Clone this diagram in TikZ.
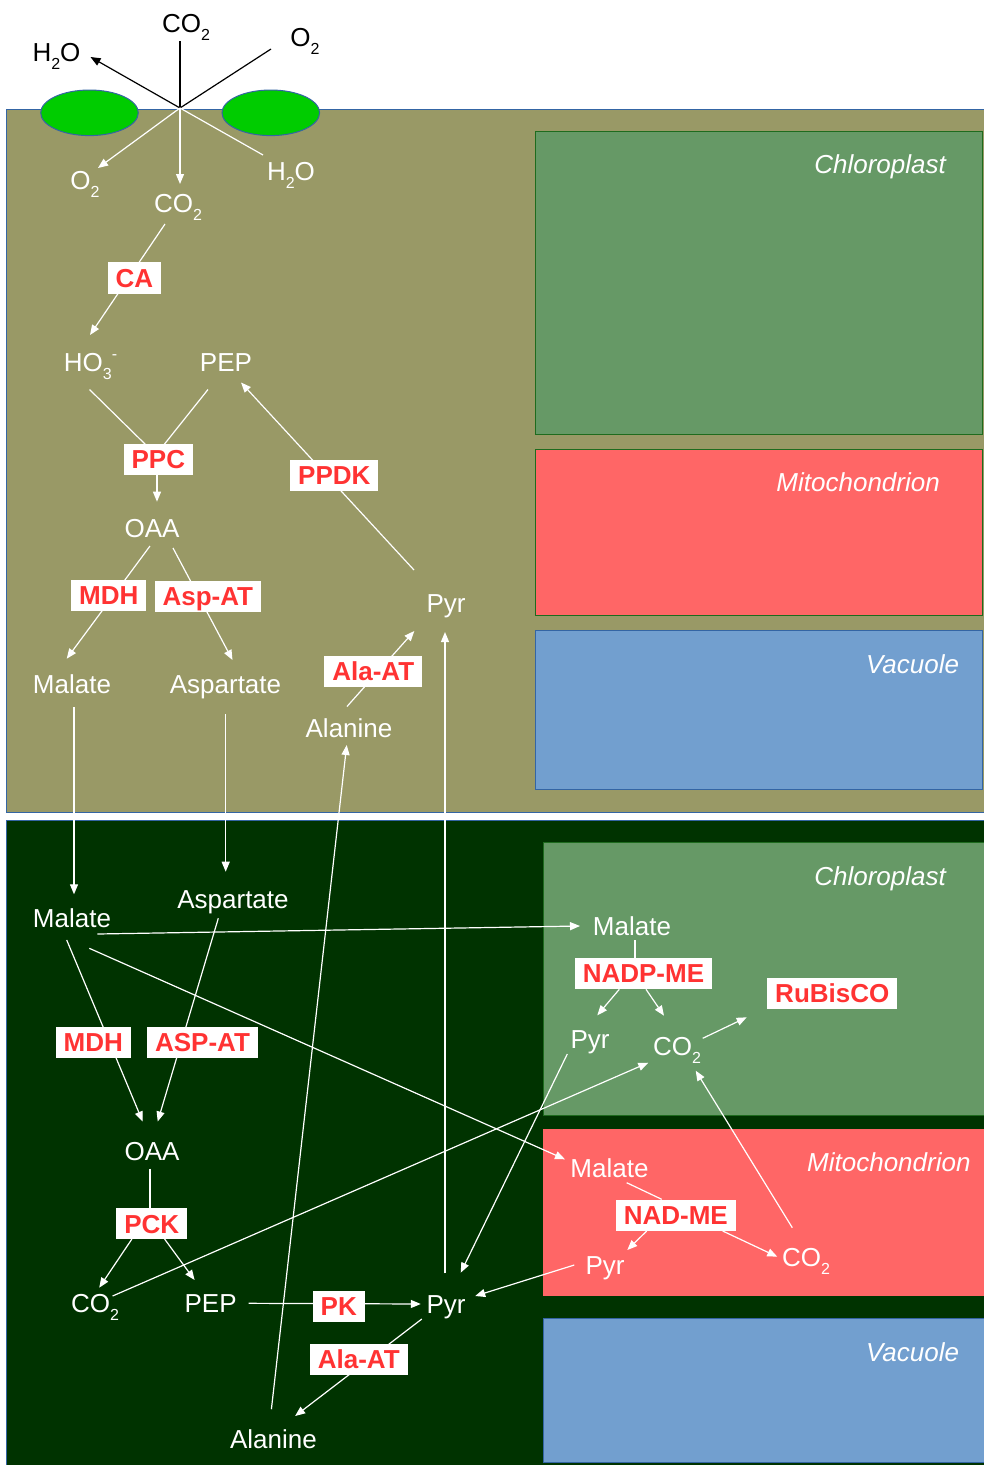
\documentclass[tikz,border=0pt]{standalone}
\usepackage{fontspec}
\setmainfont{Liberation Sans}
\usetikzlibrary{arrows.meta,calc}
\pgfdeclarelayer{bg}
\pgfdeclarelayer{edges}
\pgfsetlayers{bg,edges,main}
\definecolor{meso}{HTML}{999966}
\definecolor{bundle}{HTML}{003300}
\definecolor{chloro}{HTML}{669966}
\definecolor{chloroedge}{HTML}{1E6B1E}
\definecolor{mito}{HTML}{FF6666}
\definecolor{vacu}{HTML}{729FCF}
\definecolor{blueedge}{HTML}{3465A4}
\definecolor{leaf}{HTML}{00CC00}
\definecolor{enzred}{HTML}{FF3333}
\newcommand\subs[1]{\raisebox{-8pt}{\fontsize{16}{16}\selectfont #1}}
\newcommand\sups[1]{\raisebox{12pt}{\fontsize{16}{16}\selectfont #1}}
\begin{document}
\begin{tikzpicture}[x=1pt,y=-1pt,
  base/.style={font=\fontsize{26}{30}\selectfont, inner sep=0pt, text height=18.7pt, text depth=0pt},
  lab/.style={base, text=white},
  blab/.style={base, text=black},
  enz/.style={base, fill=white, text=enzred, font=\fontsize{26}{30}\selectfont\bfseries, inner xsep=8pt, inner ysep=6.2pt},
  comp/.style={base, text=white, font=\fontsize{26}{30}\selectfont\itshape, anchor=east},
  wl/.style={draw=white, line width=1.2pt},
  wa/.style={wl, -{Triangle[length=10pt,width=8pt]}},
  bl/.style={draw=black, line width=1.2pt},
  ba/.style={bl, -{Triangle[length=10pt,width=8pt]}},
]
\useasboundingbox (0,0) rectangle (983,1465);
\clip (0,0) rectangle (983,1465);

\begin{pgfonlayer}{bg}
  \fill[white] (0,0) rectangle (983,1465);
  \filldraw[fill=meso, draw=blueedge, line width=1pt] (6.7,109) rectangle (995,812);
  \filldraw[fill=bundle, draw=blueedge, line width=1pt] (6.7,820) rectangle (995,1475);
  \filldraw[fill=chloro, draw=chloroedge, line width=1pt] (535.3,131.7) rectangle (982,434.3);
  \filldraw[fill=mito, draw=chloroedge, line width=1pt] (535.3,449.3) rectangle (982,615);
  \filldraw[fill=vacu, draw=blueedge, line width=1pt] (535.3,630) rectangle (982,789.3);
  \filldraw[fill=chloro, draw=chloroedge, line width=1pt] (543.3,842.3) rectangle (995,1115);
  \fill[mito] (543.3,1129.3) rectangle (995,1295.7);
  \filldraw[fill=vacu, draw=blueedge, line width=1pt] (543.3,1318.3) rectangle (995,1462.7);
  \filldraw[fill=leaf, draw=blueedge, line width=1pt] (89.5,112.8) ellipse [x radius=48.8pt, y radius=22.8pt];
  \filldraw[fill=leaf, draw=blueedge, line width=1pt] (270.8,112.8) ellipse [x radius=48.8pt, y radius=22.8pt];
\end{pgfonlayer}

% compartment labels
\node[comp] (cpT) at (946,164.5) {Chloroplast};
\node[comp] (mtT) at (940,482) {Mitochondrion};
\node[comp] (vcT) at (959.3,664) {Vacuole};
\node[comp] (cpB) at (946,876) {Chloroplast};
\node[comp] (mtB) at (970.7,1162.5) {Mitochondrion};
\node[comp] (vcB) at (959.3,1352) {Vacuole};

% stoma
\coordinate (st) at (180,108);
\node[blab] (h2oT) at (56.5,52) {H\subs{2}O};
\node[blab] (co2T) at (186,23) {CO\subs{2}};
\node[blab] (o2T) at (305,37) {O\subs{2}};
\node[lab] (o2W) at (85,180) {O\subs{2}};
\node[lab] (co2W) at (178,203) {CO\subs{2}};
\node[lab] (h2oW) at (291,171.5) {H\subs{2}O};

% mesophyll metabolites
\node[lab] (ho3) at (90.5,362.5) {HO\subs{3}\sups{-}};
\node[lab] (pepT) at (226,362.5) {PEP};
\node[lab] (oaaT) at (152,528) {OAA};
\node[lab] (malT) at (72,684) {Malate};
\node[lab] (aspT) at (225.5,684) {Aspartate};
\node[lab] (pyrT) at (446,603) {Pyr};
\node[lab] (alaT) at (349,728.5) {Alanine};

% bundle sheath metabolites
\node[lab] (malB) at (72,918) {Malate};
\node[lab] (aspB) at (233,899) {Aspartate};
\node[lab] (oaaB) at (152,1151.5) {OAA};
\node[lab] (co2B) at (95,1303.3) {CO\subs{2}};
\node[lab] (pepB) at (210.6,1303.3) {PEP};
\node[lab] (pyrB) at (446,1304) {Pyr};
\node[lab] (alaB) at (273.4,1439.2) {Alanine};
\node[lab] (malC) at (632,926) {Malate};
\node[lab] (pyrC) at (590,1039) {Pyr};
\node[lab] (co2C) at (677,1046) {CO\subs{2}};
\node[lab] (malM) at (609.5,1168) {Malate};
\node[lab] (pyrM) at (605,1265.5) {Pyr};
\node[lab] (co2M) at (806,1257.5) {CO\subs{2}};

% enzymes
\node[enz] (ca) at (134.5,278) {CA};
\node[enz] (ppc) at (158.3,459.3) {PPC};
\node[enz] (ppdk) at (334.3,475.3) {PPDK};
\node[enz] (mdhT) at (108.8,595.3) {MDH};
\node[enz] (aspatT) at (207.8,596.3) {Asp-AT};
\node[enz] (alaatT) at (373.3,671.2) {Ala-AT};
\node[enz] (mdhB) at (93.3,1042.3) {MDH};
\node[enz] (aspatB) at (202.5,1042.3) {ASP-AT};
\node[enz] (pck) at (151.8,1223.7) {PCK};
\node[enz] (pk) at (338.8,1306.3) {PK};
\node[enz] (alaatB) at (358.8,1359.2) {Ala-AT};
\node[enz] (nadpme) at (643.5,973.5) {NADP-ME};
\node[enz] (rubisco) at (832.3,993.3) {RuBisCO};
\node[enz] (nadme) at (675.8,1215.3) {NAD-ME};

\begin{pgfonlayer}{edges}
  % stoma
  \draw[ba] (st) -- ($(h2oT)+(34,5)$);
  \draw[bl] ($(co2T)+(-6,18)$) -- (st);
  \draw[bl] ($(o2T)+(-34,12)$) -- (st);
  \draw[wa] (st) -- ($(o2W)+(13,-12)$);
  \draw[wa] (st) -- ($(co2W)+(2,-19)$);
  \draw[wl] (st) -- ($(h2oW)+(-28,-16.5)$);
  % mesophyll
  \draw[wa] ($(co2W)+(-13,21)$) -- ($(ho3)+(-0.5,-27.5)$);
  \draw[wl] ($(ho3)+(-1,27)$) -- ($(ppc)+(-13,-15)$);
  \draw[wl] ($(pepT)+(-18,27)$) -- ($(ppc)+(6,-15)$);
  \draw[wa] ($(ppc)+(-1.3,15)$) -- ($(oaaT)+(5,-26.3)$);
  \draw[wa] ($(pyrT)+(-32,-33)$) -- ($(pepT)+(15,20)$);
  \draw[wa] ($(oaaT)+(-2,18)$) -- ($(malT)+(-5.3,-25.3)$);
  \draw[wa] ($(oaaT)+(21,20)$) -- ($(aspT)+(7,-24)$);
  \draw[wa] ($(alaT)+(-2,-22)$) -- ($(pyrT)+(-31.7,28)$);
  % between cells
  \draw[wa] ($(malT)+(2,23)$) -- ($(malB)+(2,-23.7)$);
  \draw[wa] ($(aspT)+(0.2,30)$) -- ($(aspB)+(-7.3,-27.3)$);
  \draw[wa] ($(alaB)+(-2,-30)$) -- ($(alaT)+(-2.3,16.5)$);
  \draw[wa] ($(pyrB)+(-1,-30.7)$) -- ($(pyrT)+(-1,29)$);
  % bundle sheath
  \draw[wa] ($(malB)+(25.3,16)$) -- ($(malC)+(-52,0)$);
  \draw[wa] ($(malB)+(17.3,30.3)$) -- ($(malM)+(-44.5,-8.7)$);
  \draw[wa] ($(malB)+(-5.3,22)$) -- ($(oaaB)+(-9.3,-30)$);
  \draw[wa] ($(aspB)+(-14.7,19.3)$) -- ($(oaaB)+(5.7,-30)$);
  \draw[wl] ($(oaaB)+(-2,17)$) -- ($(pck)+(-1.8,-15)$);
  \draw[wa] ($(pck)+(-19.9,15.3)$) -- ($(co2B)+(4.2,-15.6)$);
  \draw[wa] ($(pck)+(12.8,15.3)$) -- ($(pepB)+(-16,-23.3)$);
  \draw[wa] ($(co2B)+(17.6,-7.3)$) -- ($(co2C)+(-28.7,16.7)$);
  \draw[wa] ($(pepB)+(38,0)$) -- ($(pyrB)+(-25.2,0)$);
  \draw[wa] ($(pyrB)+(-24.2,15)$) -- ($(alaB)+(21.7,-23.2)$);
  % chloroplast
  \draw[wl] ($(malC)+(3,14)$) -- ($(nadpme)+(-8.5,-15)$);
  \draw[wa] ($(nadpme)+(-24.2,15.8)$) -- ($(pyrC)+(7.3,-23.7)$);
  \draw[wa] ($(nadpme)+(2.5,15.8)$) -- ($(co2C)+(-13,-30.3)$);
  \draw[wa] ($(co2C)+(25.7,-7.7)$) -- ($(rubisco)+(-85.6,24)$);
  \draw[wa] ($(pyrC)+(-22.7,15)$) -- ($(pyrB)+(14.7,-31.3)$);
  % mitochondrion
  \draw[wl] ($(malM)+(17.2,14.7)$) -- ($(nadme)+(-14.1,-16)$);
  \draw[wa] ($(nadme)+(-29.1,15.7)$) -- ($(pyrM)+(22.3,-15.5)$);
  \draw[wa] ($(nadme)+(46.9,15.7)$) -- ($(co2M)+(-28.7,-0.8)$);
  \draw[wa] ($(co2M)+(-13.7,-29.8)$) -- ($(co2C)+(18.7,24.7)$);
  \draw[wa] ($(pyrM)+(-30.7,-0.5)$) -- ($(pyrB)+(29.2,-8)$);
\end{pgfonlayer}
\end{tikzpicture}
\end{document}
